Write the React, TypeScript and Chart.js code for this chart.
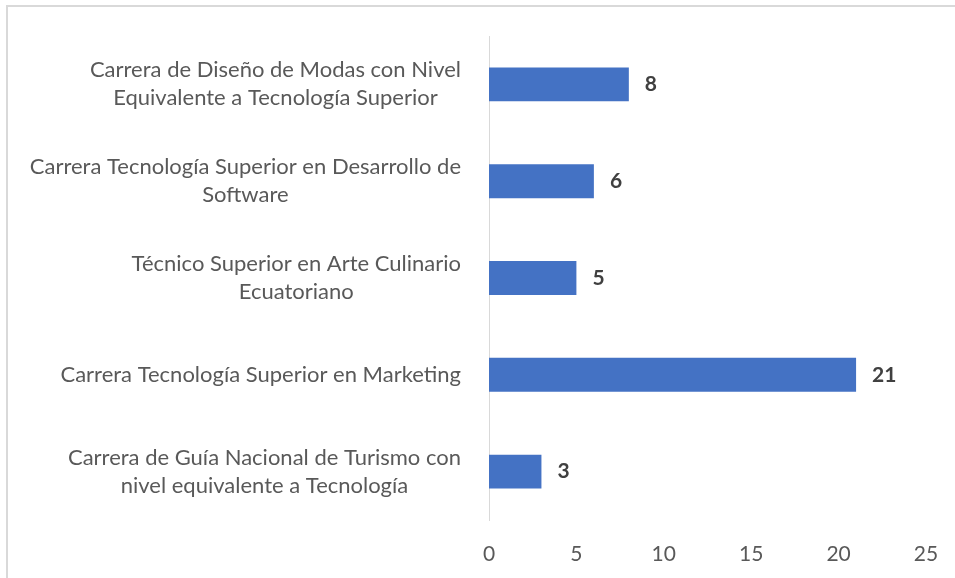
import React, { useEffect, useRef } from "react";
import { Chart, registerables } from "chart.js";

Chart.register(...registerables);

const categories: string[][] = [
  ["Carrera de Diseño de Modas con Nivel", "Equivalente a Tecnología Superior"],
  ["Carrera Tecnología Superior en Desarrollo de", "Software"],
  ["Técnico Superior en Arte Culinario", "Ecuatoriano"],
  ["Carrera Tecnología Superior en Marketing"],
  ["Carrera de Guía Nacional de Turismo con", "nivel equivalente a Tecnología"],
];
const values: number[] = [8, 6, 5, 21, 3];
const xTicks: number[] = [0, 5, 10, 15, 20, 25];

const FONT = "Lato, 'Open Sans', sans-serif";
const TEXT = "#595959";

const yLabelPlugin = {
  id: "yLabels",
  afterDraw(chart: any) {
    const ctx = chart.ctx;
    const yScale = chart.scales.y;
    const right = chart.chartArea.left - 28;
    ctx.save();
    ctx.font = `22px ${FONT}`;
    ctx.fillStyle = TEXT;
    ctx.textAlign = "center";
    ctx.textBaseline = "middle";
    const lh = 28;
    categories.forEach((lines, i) => {
      const y = yScale.getPixelForTick(i);
      const w = Math.max(...lines.map((l) => ctx.measureText(l).width));
      const cx = right - w / 2;
      const start = y - ((lines.length - 1) * lh) / 2;
      lines.forEach((l, j) => ctx.fillText(l, cx, start + j * lh));
    });
    ctx.restore();
  },
};

const valueLabelPlugin = {
  id: "valueLabels",
  afterDatasetsDraw(chart: any) {
    const ctx = chart.ctx;
    const meta = chart.getDatasetMeta(0);
    ctx.save();
    ctx.font = `bold 21px ${FONT}`;
    ctx.fillStyle = "#404040";
    ctx.textAlign = "left";
    ctx.textBaseline = "middle";
    meta.data.forEach((bar: any, i: number) => {
      ctx.fillText(String(values[i]), bar.x + 16, bar.y);
    });
    ctx.restore();
  },
};

export default function App() {
  const ref = useRef<HTMLCanvasElement | null>(null);
  useEffect(() => {
    if (!ref.current) return;
    const chart = new Chart(ref.current, {
      type: "bar",
      data: {
        labels: categories.map((c) => c.join(" ")),
        datasets: [
          {
            data: values,
            backgroundColor: "#4472C4",
            borderWidth: 0,
            barPercentage: 0.35,
            categoryPercentage: 1,
          },
        ],
      },
      options: {
        indexAxis: "y",
        responsive: false,
        animation: false,
        layout: { padding: { left: 0, right: 29, top: 36, bottom: 0 } },
        plugins: { legend: { display: false }, tooltip: { enabled: false } },
        scales: {
          y: {
            type: "category",
            grid: { display: false, drawTicks: false },
            border: { display: true, color: "#d9d9d9", width: 1 },
            ticks: { display: false },
            afterFit: (s: any) => {
              s.width = 489;
            },
          },
          x: {
            type: "linear",
            min: 0,
            max: 25,
            afterBuildTicks: (s: any) => {
              s.ticks = xTicks.map((v) => ({ value: v }));
            },
            grid: { display: false, drawTicks: false },
            border: { display: false },
            ticks: {
              padding: 22,
              color: TEXT,
              font: { family: FONT, size: 21 },
            },
            afterFit: (s: any) => {
              s.height = 58;
              s.paddingRight = 0;
            },
          },
        },
      },
      plugins: [yLabelPlugin, valueLabelPlugin],
    });
    return () => chart.destroy();
  }, []);
  return (
    <div style={{ position: "fixed", left: 0, top: 0, width: 955, height: 578, background: "#fff" }}>
      <div
        style={{
          position: "absolute",
          left: 6,
          top: 5,
          width: 955,
          height: 578,
          borderLeft: "2px solid #d9d9d9",
          borderTop: "2px solid #d9d9d9",
          boxSizing: "border-box",
        }}
      />
      <canvas ref={ref} width={955} height={578} style={{ position: "absolute", left: 0, top: 0 }} />
    </div>
  );
}
